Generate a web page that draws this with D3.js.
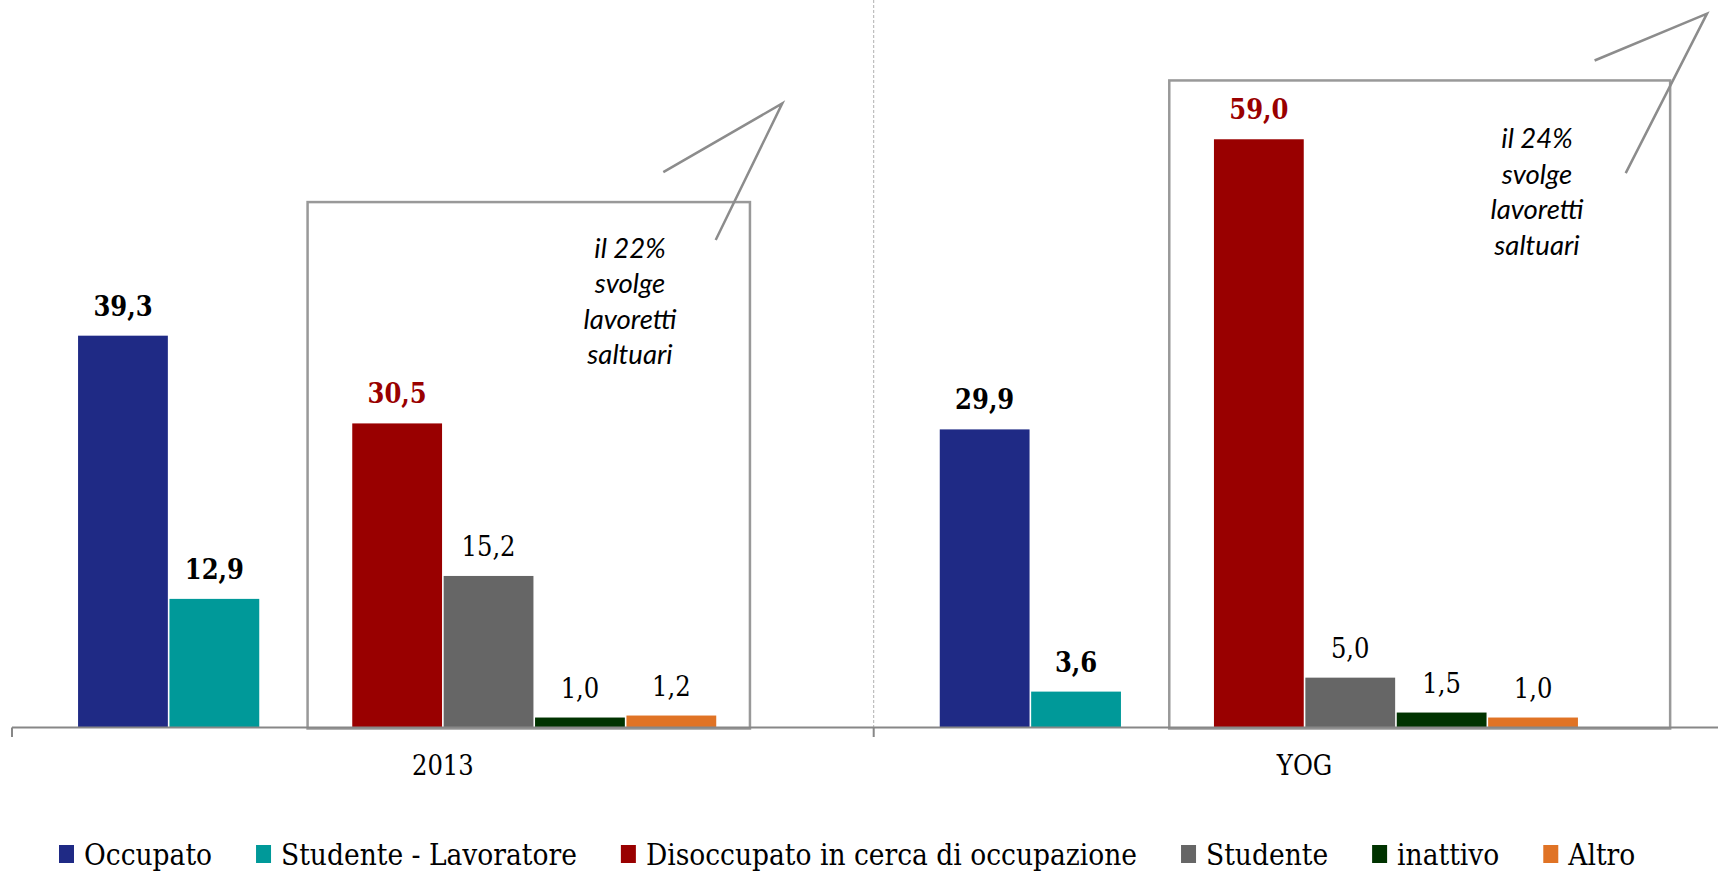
<!DOCTYPE html>
<html>
<head>
<meta charset="utf-8">
<script src="https://cdn.jsdelivr.net/npm/d3@7"></script>
<style>
  html, body { margin: 0; padding: 0; background: #fff; }
  svg { display: block; }
</style>
</head>
<body>
<div id="chart"></div>
<script>
/*
** Data
*/
var groups = ["2013", "YOG"]
  , series = ["Occupato", "Studente - Lavoratore", "Disoccupato in cerca di occupazione",
              "Studente", "inattivo", "Altro"]
  , values2013 = [39.3, 12.9, 30.5, 15.2, 1.0, 1.2]
  , valuesYOG = [29.9, 3.6, 59.0, 5.0, 1.5, 1.0]
  , note2013 = ["il 22%", "svolge", "lavoretti", "saltuari"]
  , noteYOG = ["il 24%", "svolge", "lavoretti", "saltuari"]
;
// slot order inside a group: empty slots split the two blocks like in the original
var slots = ["Occupato", "Studente - Lavoratore", "_gap1",
             "Disoccupato in cerca di occupazione", "Studente", "inattivo", "Altro", "_gap2"];

var colors = {
    "Occupato": "#1f2a85",
    "Studente - Lavoratore": "#009999",
    "Disoccupato in cerca di occupazione": "#990000",
    "Studente": "#666666",
    "inattivo": "#003300",
    "Altro": "#e07325"
};
var boldSeries = ["Occupato", "Studente - Lavoratore", "Disoccupato in cerca di occupazione"];

var W = 1718, H = 871
  , axisY = 727.5
  , serif = "'DejaVu Serif Condensed', 'DejaVu Serif', serif"
;

var rows = [];
groups.forEach(function(g, gi) {
    var vals = gi === 0 ? values2013 : valuesYOG;
    series.forEach(function(s, i) {
        rows.push({group: g, key: s, value: vals[i]});
    });
});

/*
** Scales
*/
var x0 = d3.scaleBand()
    .domain(groups)
    .range([12, 12 + 2 * 861.7])
    .padding(0);
var x1 = d3.scaleBand()
    .domain(slots)
    .range([0, x0.bandwidth()])
    .paddingInner(0)
    .paddingOuter(0.714);
var y = d3.scaleLinear()
    .domain([0, 70])
    .range([axisY, axisY - 70 * 9.97]);

var svg = d3.select("#chart").append("svg")
    .attr("width", W)
    .attr("height", H)
    .attr("viewBox", [0, 0, W, H].join(" "));

// dotted separator between the two groups
svg.append("line")
    .attr("x1", x0("YOG")).attr("x2", x0("YOG"))
    .attr("y1", 0).attr("y2", axisY)
    .attr("stroke", "#b0b0b0")
    .attr("stroke-width", 1)
    .attr("stroke-dasharray", "3,2");

/*
** Callout boxes (drawn behind the bars)
*/
var step = x1.step();
var boxes = [
    {group: "2013", left: 0.52, right: 0.36, top: 52.7,
     pointer: [[651.3, 55.7], [770.3, 62.6], [703.7, 48.9]],
     textX: 618, textY: 47.1, lines: note2013},
    {group: "YOG", left: 0.52, right: 1.0, top: 64.9,
     pointer: [[720.9, 66.9], [833.3, 71.6], [752, 55.6]],
     textX: 663.3, textY: 58.1, lines: noteYOG}
];

var note = svg.append("g").attr("class", "notes");
boxes.forEach(function(b) {
    var gx = x0(b.group)
      , left = gx + x1("_gap1") + b.left * step
      , right = gx + x1("_gap2") + b.right * step
    ;
    note.append("rect")
        .attr("x", left)
        .attr("y", y(b.top))
        .attr("width", right - left)
        .attr("height", axisY + 1 - y(b.top))
        .attr("fill", "none")
        .attr("stroke", "#999999")
        .attr("stroke-width", 2.5);
    note.append("path")
        .attr("d", d3.line()(b.pointer.map(function(p) { return [gx + p[0], y(p[1])]; })))
        .attr("fill", "none")
        .attr("stroke", "#8c8c8c")
        .attr("stroke-width", 2.5);
    note.append("text")
        .attr("x", gx + b.textX)
        .attr("y", y(b.textY))
        .attr("text-anchor", "middle")
        .style("font-family", "Lato, 'Open Sans', sans-serif")
        .style("font-style", "italic")
        .style("font-size", "27.5px")
        .attr("fill", "#000")
      .selectAll("tspan")
        .data(b.lines)
      .enter().append("tspan")
        .attr("x", gx + b.textX)
        .attr("dy", function(d, i) { return i ? 35.5 : 0; })
        .text(function(d) { return d; });
});

/*
** Bars
*/
svg.append("g").attr("class", "bars")
  .selectAll("rect")
    .data(rows)
  .enter().append("rect")
    .attr("x", function(d) { return x0(d.group) + x1(d.key) + 0.8; })
    .attr("width", x1.bandwidth() - 1.6)
    .attr("y", function(d) { return y(d.value); })
    .attr("height", function(d) { return y(0) - y(d.value); })
    .attr("fill", function(d) { return colors[d.key]; });

svg.append("g").attr("class", "labels")
  .selectAll("text")
    .data(rows)
  .enter().append("text")
    .attr("x", function(d) { return x0(d.group) + x1(d.key) + x1.bandwidth() / 2; })
    .attr("y", function(d) { return y(d.value) - 20; })
    .attr("text-anchor", "middle")
    .style("font-family", serif)
    .style("font-size", "27px")
    .style("font-weight", function(d) { return boldSeries.indexOf(d.key) >= 0 ? "bold" : "normal"; })
    .attr("fill", function(d) { return d.key === "Disoccupato in cerca di occupazione" ? "#990000" : "#000"; })
    .text(function(d) { return d3.format(".1f")(d.value).replace(".", ","); });

/*
** Category axis: line, boundary ticks, centred labels
*/
var axis = svg.append("g").attr("class", "axis axis--x");
axis.append("line")
    .attr("x1", x0.range()[0]).attr("x2", W)
    .attr("y1", axisY).attr("y2", axisY)
    .attr("stroke", "#878787")
    .attr("stroke-width", 2);
axis.selectAll(".tick")
    .data(groups.concat(["_end"]))
  .enter().append("line")
    .attr("class", "tick")
    .attr("x1", function(d) { return d === "_end" ? x0.range()[1] : x0(d); })
    .attr("x2", function(d) { return d === "_end" ? x0.range()[1] : x0(d); })
    .attr("y1", axisY).attr("y2", axisY + 9.5)
    .attr("stroke", "#878787")
    .attr("stroke-width", 2);
axis.selectAll(".cat")
    .data(groups)
  .enter().append("text")
    .attr("class", "cat")
    .attr("x", function(d) { return x0(d) + x0.bandwidth() / 2; })
    .attr("y", 775)
    .attr("text-anchor", "middle")
    .style("font-family", serif)
    .style("font-size", "27px")
    .text(function(d) { return d; });

/*
** Legend
*/
var legend = svg.append("g").attr("class", "legend");
var lx = 59;
series.forEach(function(s) {
    legend.append("rect")
        .attr("x", lx).attr("y", 845)
        .attr("width", 15).attr("height", 18)
        .attr("fill", colors[s]);
    var t = legend.append("text")
        .attr("x", lx + 25)
        .attr("y", 865)
        .style("font-family", serif)
        .style("font-size", "29.5px")
        .text(s);
    lx += 25 + t.node().getComputedTextLength() + 44;
});
</script>
</body>
</html>
